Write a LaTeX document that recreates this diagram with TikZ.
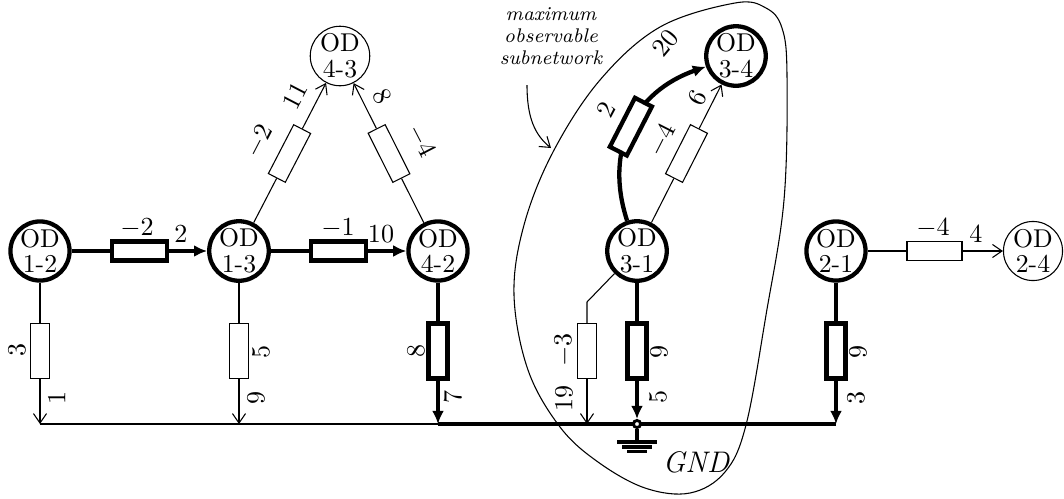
\documentclass[tikz,border=0pt]{standalone}
\usetikzlibrary{arrows.meta}
\begin{document}
\begin{tikzpicture}[x=0.42pt,y=-0.42pt,
  od/.style={circle, draw, fill=white, inner sep=0pt, minimum size=24.4pt, align=center, font=\fontsize{10.8}{10.8}\selectfont},
  odk/.style={od, line width=1.8pt},
  odt/.style={od, line width=0.45pt},
  res/.style={rectangle, draw, fill=white, inner sep=0pt, minimum width=23.1pt, minimum height=8pt},
  resk/.style={res, line width=1.8pt},
  rest/.style={res, line width=0.45pt},
  wk/.style={line width=1.8pt},
  wt/.style={line width=0.45pt},
  arrk/.style={wk, -{Latex[length=5.5pt,width=5pt]}},
  arrt/.style={wt, -{Straight Barb[length=4pt,width=5.5pt]}},
  lab/.style={inner sep=0pt, font=\fontsize{10.5}{12}\selectfont}
]
\useasboundingbox (0,0) rectangle (1064,498);

% observable subnetwork outline
\draw[wt] plot[smooth cycle, tension=0.6] coordinates {
 (735,3) (766,8) (782,28) (787,75) (784,200) (766,315) (746,425)
 (725,472) (690,493) (645,488) (598,462) (560,427) (528,370) (514,295)
 (524,225) (553,152) (600,80) (660,27)};

% bus
\coordinate (b12) at (40,424);
\coordinate (b13) at (239,424);
\coordinate (b42) at (438,424);
\coordinate (b3a) at (587,424);
\coordinate (b21) at (836,424);
\draw[wt] (b12) -- (b42);
\draw[wk] (b42) -- (b21);

% OD nodes
\node[odk] (n12) at (40,251) {OD\\1-2};
\node[odk] (n13) at (239,251) {OD\\1-3};
\node[odk] (n42) at (438,251) {OD\\4-2};
\node[odt] (n43) at (340,56) {OD\\4-3};
\node[odk] (n31) at (637,251) {OD\\3-1};
\node[odk] (n34) at (736,56) {OD\\3-4};
\node[odk] (n21) at (836,251) {OD\\2-1};
\node[odt] (n24) at (1033,251) {OD\\2-4};

% horizontal branches
\node[resk] (r1213) at (139.5,251) {};
\draw[wk] (n12) -- (r1213);
\draw[arrk] (r1213) -- (n13);
\node[lab] (l1213a) at (137,228) {$-2$};
\node[lab] (l1213b) at (181,234) {$2$};

\node[resk] (r1342) at (338.5,251) {};
\draw[wk] (n13) -- (r1342);
\draw[arrk] (r1342) -- (n42);
\node[lab] (l1342a) at (338,228) {$-1$};
\node[lab] (l1342b) at (381,234) {$10$};

\node[rest] (r2124) at (934.5,251) {};
\draw[wt] (n21) -- (r2124);
\draw[arrt] (r2124) -- (n24);
\node[lab] (l2124a) at (933,228) {$-4$};
\node[lab] (l2124b) at (976,234) {$4$};

% triangle branches
\node[rest, rotate=62.6] (r1343) at (289.5,153.5) {};
\draw[wt] (n13) -- (r1343);
\draw[arrt] (r1343) -- (n43);
\node[lab, rotate=62.6] (l1343a) at (259,141) {$-2$};
\node[lab, rotate=62.6] (l1343b) at (295,96) {$11$};

\node[rest, rotate=116.7] (r4243) at (389,153.5) {};
\draw[wt] (n42) -- (r4243);
\draw[arrt] (r4243) -- (n43);
\node[lab, rotate=-62.6] (l4243a) at (421,141) {$-4$};
\node[lab, rotate=-62.6] (l4243b) at (382,96) {$8$};

% 3-1 to 3-4
\node[rest, rotate=63.1] (r3134) at (686.5,153.5) {};
\draw[wt] (n31) -- (r3134);
\draw[arrt] (r3134) -- (n34);
\node[lab, rotate=63.1] (l3134a) at (662,140) {$-4$};
\node[lab, rotate=63.1] (l3134b) at (697,98) {$6$};

\draw[arrk] (n31) .. controls (604,150) and (634,92) .. (n34)
  node[resk, sloped, pos=0.5] (rc) {};
\node[lab, rotate=62] (lca) at (606,110) {$2$};
\node[lab, rotate=50] (lcb) at (665,43) {$20$};

% vertical branches
\node[rest, rotate=-90] (rv12) at (40,351) {};
\draw[wt] (n12) -- (rv12);
\draw[arrt] (rv12) -- (b12);
\node[lab, rotate=90] (lv12a) at (17,350) {$3$};
\node[lab, rotate=90] (lv12b) at (57,398) {$1$};

\node[rest, rotate=-90] (rv13) at (239,351) {};
\draw[wt] (n13) -- (rv13);
\draw[arrt] (rv13) -- (b13);
\node[lab, rotate=90] (lv13a) at (261,352) {$5$};
\node[lab, rotate=90] (lv13b) at (256,398) {$9$};

\node[resk, rotate=-90] (rv42) at (438,351) {};
\draw[wk] (n42) -- (rv42);
\draw[arrk] (rv42) -- (b42);
\node[lab, rotate=90] (lv42a) at (416,351) {$8$};
\node[lab, rotate=90] (lv42b) at (453,397) {$7$};

\coordinate (c31) at (587,302);
\node[rest, rotate=-90] (rv31a) at (587,351) {};
\draw[wt] (n31.-135) -- (c31) -- (rv31a);
\draw[arrt] (rv31a) -- (b3a);
\node[lab, rotate=90] (lv31aa) at (564,350) {$-3$};
\node[lab, rotate=90] (lv31ab) at (564,398) {$19$};

% ground
\node[circle, draw, fill=white, line width=1.2pt, inner sep=0pt, minimum size=3pt] (g) at (637,424) {};
\node[resk, rotate=-90] (rv31) at (637,351) {};
\draw[wk] (n31) -- (rv31);
\draw[arrk] (rv31) -- (g);
\node[lab, rotate=90] (lv31a) at (659,352) {$9$};
\node[lab, rotate=90] (lv31b) at (658,397) {$5$};
\coordinate (gs) at (637,442);
\draw[line width=1.3pt] (g) -- (gs);
\draw[line width=1.3pt] (617,442) -- (657,442);
\draw[line width=1.3pt] (622,447) -- (652,447);
\draw[line width=1.3pt] (627,451.5) -- (647,451.5);
\node[font=\fontsize{12.5}{14}\selectfont\itshape] (gnd) at (696,462) {GND};

\node[resk, rotate=-90] (rv21) at (836,351) {};
\draw[wk] (n21) -- (rv21);
\draw[arrk] (rv21) -- (b21);
\node[lab, rotate=90] (lv21a) at (858,352) {$9$};
\node[lab, rotate=90] (lv21b) at (856,398) {$3$};

% annotation
\node[align=center, inner sep=0pt, font=\fontsize{8.3}{9.3}\selectfont\itshape] (ann) at (551,36) {maximum\\observable\\subnetwork};
\coordinate (a1) at (527,85);
\coordinate (a2) at (551,148);
\draw[arrt] (a1) .. controls (527,118) and (535,135) .. (a2);
\end{tikzpicture}
\end{document}
